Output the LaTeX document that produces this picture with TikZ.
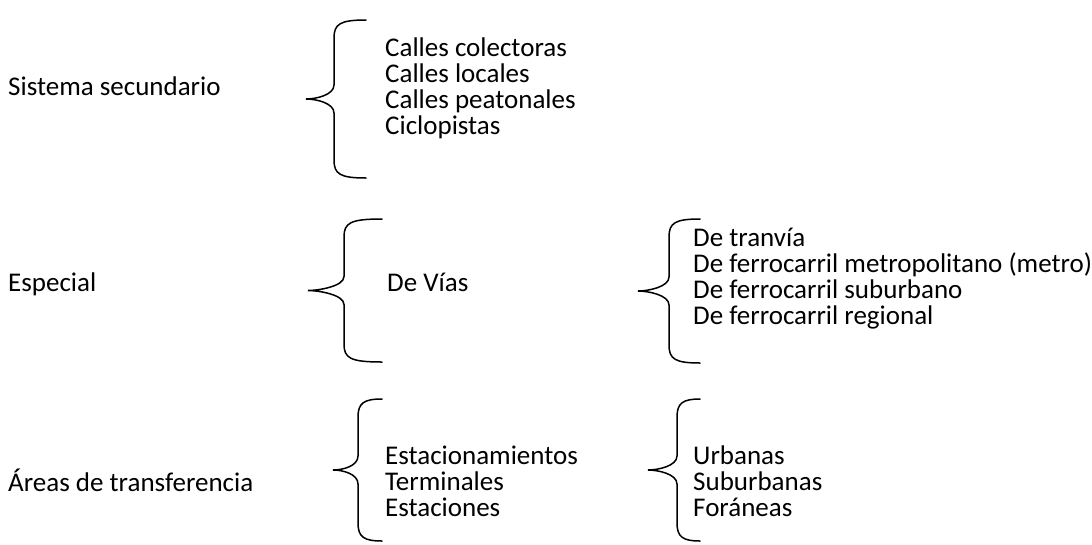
\documentclass[tikz,border=0pt]{standalone}
\usepackage{fontspec}
\setmainfont{Carlito}
\usetikzlibrary{positioning}

% left curly brace: right x, stem x, tip x, top y, bottom y
\newcommand{\llave}[5]{%
  \draw[llave] (#1,#4) .. controls ({#2+6},#4) and (#2,{#4+4}) .. (#2,{#4+18})
    -- (#2,{(#4+#5)/2-14}) .. controls (#2,{(#4+#5)/2-4}) and ({#3+10},{(#4+#5)/2}) .. (#3,{(#4+#5)/2})
    .. controls ({#3+10},{(#4+#5)/2}) and (#2,{(#4+#5)/2+4}) .. (#2,{(#4+#5)/2+14})
    -- (#2,{#5-18}) .. controls (#2,{#5-4}) and ({#2+6},#5) .. (#1,#5);}

\begin{document}
\begin{tikzpicture}[x=1pt, y=-1pt,
  txt/.style={anchor=base west, inner sep=0pt, font=\fontsize{27}{26}\selectfont},
  llave/.style={line width=1.5pt, line cap=round}]

\useasboundingbox (0,0) rectangle (1092,544);

% Sistema secundario
\node[txt] (sis) at (8,95) {Sistema secundario};
\llave{366}{334}{306}{20}{178}
\foreach \t [count=\i] in {Calles colectoras, Calles locales, Calles peatonales, Ciclopistas}
  \node[txt] (sec\i) at (385,{56+26*(\i-1)}) {\t};

% Especial
\node[txt] (esp) at (8,291) {Especial};
\llave{382}{344}{308}{219}{362}
\node[txt] (vias) at (387,291) {De Vías};
\llave{700}{669}{638}{219}{363}
\foreach \t [count=\i] in {De tranvía, De ferrocarril metropolitano (metro), De ferrocarril suburbano, De ferrocarril regional}
  \node[txt] (tipo\i) at (693,{246+26*(\i-1)}) {\t};

% Areas de transferencia
\node[txt] (area) at (8,491) {Áreas de transferencia};
\llave{382}{358}{333}{399}{541}
\foreach \t [count=\i] in {Estacionamientos, Terminales, Estaciones}
  \node[txt] (est\i) at (385,{464+26*(\i-1)}) {\t};
\llave{700}{677}{648}{399}{541}
\foreach \t [count=\i] in {Urbanas, Suburbanas, Foráneas}
  \node[txt] (zona\i) at (693,{464+26*(\i-1)}) {\t};

\end{tikzpicture}
\end{document}
